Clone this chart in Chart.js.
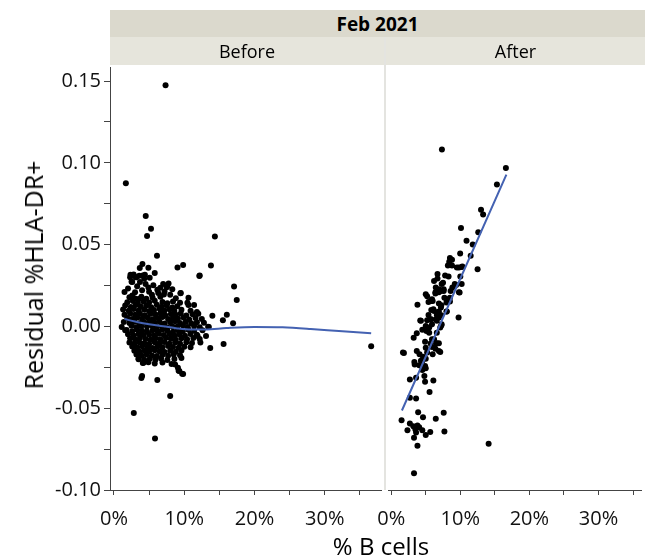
<!DOCTYPE html>
<html>
<head>
<meta charset="utf-8">
<script src="https://cdn.jsdelivr.net/npm/chart.js@4.4.1/dist/chart.umd.min.js"></script>
<style>
  html, body { margin: 0; padding: 0; background: #fff; overflow: hidden; }
  #wrap { position: relative; width: 645px; height: 557px; font-family: "Open Sans", sans-serif; color: #000; }
  canvas { position: absolute; top: 0; }
  #cBefore { left: 0; }
  #cAfter { left: 365px; }
  .cell { position: absolute; display: flex; align-items: center; justify-content: center; white-space: nowrap; }
  #hTop { left: 110px; top: 10px; width: 535px; height: 27px; background: #dbd9cd; font-weight: bold; font-size: 19px; }
  #hBefore { left: 110px; top: 37px; width: 274px; height: 28px; background: #e6e5dc; font-size: 18px; }
  #hAfter { left: 386px; top: 37px; width: 259px; height: 28px; background: #e6e5dc; font-size: 18px; }
  #sep { position: absolute; left: 384px; top: 37px; width: 2px; height: 453px; background: #e4e4e0; }
  #yTitle { position: absolute; left: 33px; top: 275px; transform: translate(-50%, -50%) rotate(-90deg); font-size: 25px; white-space: nowrap; }
  #xTitle { position: absolute; left: 381px; top: 545px; transform: translate(-50%, -50%); font-size: 24px; white-space: nowrap; }
</style>
</head>
<body>
<div id="wrap">
  <div id="sep"></div>
  <canvas id="cBefore" width="384" height="557"></canvas>
  <canvas id="cAfter" width="280" height="557"></canvas>
  <div id="hTop" class="cell"></div>
  <div id="hBefore" class="cell"></div>
  <div id="hAfter" class="cell"></div>
  <div id="yTitle"></div>
  <div id="xTitle"></div>
</div>
<script>
// Facet labels and axis titles
const groupTitle = 'Feb 2021';
const panelTitles = ['Before', 'After'];
const xAxisTitle = '% B cells';
const yAxisTitle = 'Residual %HLA-DR+';

// Axis ranges (x in percent, y in residual units)
const yRange = [-0.10, 0.1586];
const beforeXRange = [-0.565, 38.0];
const afterXRange = [-0.42, 36.3];

// Tick positions; only the labelled subset gets text
const xTickValues = [0, 5, 10, 15, 20, 25, 30, 35];
const xTickLabelled = [0, 10, 20, 30];
const yTickValues = [-0.10, -0.075, -0.05, -0.025, 0, 0.025, 0.05, 0.075, 0.10, 0.125, 0.15];
const yTickLabelled = [-0.10, -0.05, 0, 0.05, 0.10, 0.15];

// Before: [% B cells, residual]
const beforePoints = [
  [2.2,0.0178],[3.0,0.0171],[3.9,0.0182],[4.6,0.0169],[5.5,0.0176],[6.6,0.0181],[8.8,0.0172],
  [1.9,0.0148],[2.7,0.0155],[3.4,0.0143],[4.2,0.0152],[5.0,0.0146],[5.8,0.0157],[6.9,0.0149],[7.6,0.0141],[8.4,0.0153],[9.4,0.0144],
  [1.6,0.0128],[2.4,0.0119],[3.1,0.0131],[3.8,0.0122],[4.6,0.0127],[5.3,0.0118],[6.1,0.0133],[6.8,0.0121],[7.5,0.0129],[8.3,0.0116],[9.0,0.0124],[10.6,0.0131],
  [1.3,0.0103],[2.1,0.0096],[2.8,0.0107],[3.5,0.0098],[4.3,0.0104],[5.0,0.0093],[5.7,0.0101],[6.5,0.0108],[7.2,0.0097],[7.9,0.0105],[8.6,0.0094],[9.6,0.0102],[10.9,0.0096],[11.8,0.0088],
  [1.5,0.0072],[2.3,0.0079],[3.0,0.0071],[3.7,0.0078],[4.4,0.0069],[5.2,0.0077],[5.9,0.0073],[6.6,0.0081],[7.3,0.0068],[8.1,0.0076],[8.8,0.0071],[9.5,0.0079],[10.3,0.0067],[11.2,0.0074],[12.0,0.0078],
  [1.9,0.0052],[2.6,0.0046],[3.3,0.0055],[4.0,0.0047],[4.8,0.0053],[5.5,0.0044],[6.2,0.0051],[6.9,0.0057],[7.7,0.0045],[8.4,0.0052],[9.1,0.0048],[9.9,0.0055],[10.7,0.0043],[11.6,0.0051],[12.5,0.0046],
  [1.4,0.0027],[2.2,0.0021],[2.9,0.0029],[3.6,0.0019],[4.3,0.0026],[5.1,0.0031],[5.8,0.0022],[6.5,0.0028],[7.2,0.0018],[8.0,0.0025],[8.7,0.0031],[9.4,0.0021],[10.2,0.0027],[11.0,0.0019],[11.8,0.0026],[12.8,0.0022],
  [1.1,-0.0003],[2.5,0.0004],[3.2,-0.0005],[3.9,0.0002],[4.7,-0.0001],[5.4,0.0006],[6.1,-0.0004],[6.8,0.0003],[7.6,-0.0006],[8.3,0.0001],[9.0,-0.0002],[9.8,0.0005],[10.5,-0.0004],[11.4,0.0002],[12.2,-0.0005],[13.4,-0.0002],
  [1.8,-0.0022],[2.6,-0.0029],[3.3,-0.0021],[4.0,-0.0027],[4.7,-0.0031],[5.5,-0.0023],[6.2,-0.0028],[6.9,-0.0019],[7.6,-0.0026],[8.4,-0.0032],[9.1,-0.0024],[9.8,-0.0029],[10.6,-0.0021],[11.4,-0.0027],[12.6,-0.0023],
  [2.0,-0.0048],[2.8,-0.0055],[3.5,-0.0046],[4.2,-0.0053],[5.0,-0.0049],[5.7,-0.0056],[6.4,-0.0045],[7.1,-0.0052],[7.9,-0.0047],[8.6,-0.0054],[9.3,-0.0049],[10.1,-0.0057],[10.9,-0.0046],[11.8,-0.0051],[13.1,-0.0058],
  [2.3,-0.0073],[3.0,-0.0079],[3.7,-0.0071],[4.5,-0.0077],[5.2,-0.0082],[5.9,-0.0072],[6.6,-0.0078],[7.4,-0.0069],[8.1,-0.0076],[8.8,-0.0081],[9.6,-0.0073],[10.4,-0.0079],[11.3,-0.0071],[12.2,-0.0077],
  [2.2,-0.0098],[2.9,-0.0104],[3.6,-0.0096],[4.3,-0.0103],[5.0,-0.0107],[5.8,-0.0097],[6.5,-0.0102],[7.2,-0.0095],[7.9,-0.0106],[8.7,-0.0099],[9.4,-0.0104],[10.3,-0.0097],[11.1,-0.0101],
  [2.6,-0.0122],[3.3,-0.0129],[4.0,-0.0121],[4.8,-0.0127],[5.5,-0.0132],[6.2,-0.0123],[6.9,-0.0128],[7.7,-0.0120],[8.4,-0.0126],[9.2,-0.0131],[10.0,-0.0124],[10.9,-0.0128],
  [2.9,-0.0148],[3.6,-0.0154],[4.3,-0.0147],[5.0,-0.0153],[5.8,-0.0146],[6.5,-0.0152],[7.2,-0.0157],[8.0,-0.0149],[8.8,-0.0155],[9.6,-0.0147],
  [3.2,-0.0172],[3.9,-0.0178],[4.6,-0.0171],[5.4,-0.0177],[6.1,-0.0181],[6.9,-0.0173],[7.7,-0.0179],[8.5,-0.0172],[9.4,-0.0176],
  [3.5,-0.0198],[4.3,-0.0204],[5.1,-0.0197],[5.9,-0.0203],[6.7,-0.0196],[7.6,-0.0205],[8.6,-0.0199],[9.6,-0.0193],
  [4.1,-0.0224],[4.9,-0.0219],[5.8,-0.0227],[6.9,-0.0221],[8.2,-0.0229],
  [2.0,0.0232],[3.3,0.0245],[4.0,0.0221],[4.9,0.0238],[5.6,0.0252],[6.6,0.0236],[8.3,0.0228],[3.0,0.0209],[5.0,0.0212],[8.0,0.0193],[10.6,0.0176],[11.4,0.0131],[1.5,0.0210],
  [7.34,0.1475],[1.69,0.0875],[4.52,0.0675],[5.27,0.0597],[4.71,0.0553],[14.36,0.0550],[6.12,0.0432],[4.05,0.0381],
  [3.67,0.0357],[4.9,0.0358],[9.04,0.0360],[9.84,0.0375],[13.8,0.0373],[2.35,0.0316],[3.2,0.0300],[3.6,0.0310],[4.1,0.0312],
  [5.08,0.0297],[12.15,0.0309],[17.09,0.0244],[17.47,0.0162],[14.0,0.0066],[16.06,0.0072],[15.5,0.0038],[16.95,0.0020],
  [15.6,-0.0107],[13.7,-0.0132],[36.6,-0.0121],[3.9,-0.0316],[6.17,-0.0328],[9.2,-0.0271],[9.84,-0.0291],[8.0,-0.0426],
  [2.82,-0.0530],[5.84,-0.0685],[9.46,0.0203],[10.45,0.0144],[7.77,0.0262],[7.58,0.0244],[7.1,0.0195],[6.17,0.0224],
  [2.5,0.0273],[2.8,0.0317],[2.3,0.0301],[3.1,0.0301],[4.4,0.0316],[4.3,0.0291],[4.5,0.0260],[2.6,0.0271],[3.7,0.0271],
  [5.8,0.0326],[7.0,0.0260],[7.5,0.0240],[7.2,0.0213],[6.3,0.0205],[5.4,0.0193],[2.6,0.0189],[3.5,0.0168],[12.2,0.0311],
  [9.5,0.0205],[13.5,-0.0003],[12.3,-0.0099],[11.9,-0.0058],[9.3,-0.0273],[9.7,-0.0289],[9.1,-0.0252],[8.7,-0.0232],
  [4.0,-0.0303],[1.6,-0.0023],[3.5,-0.0201],[4.2,-0.0222]
];

// Before: smoothing curve
const beforeFit = [
  [1.5,0.0045],[3,0.0030],[5,0.0013],[7,0.0001],[9,-0.0012],[11,-0.0019],[13,-0.0019],
  [16,-0.0010],[20,-0.0003],[24,-0.0005],[28,-0.0015],[32,-0.0028],[36.6,-0.0042]
];

// After: [% B cells, residual]
const afterPoints = [
  [7.34,0.1081],[16.6,0.0969],[15.3,0.0867],[13.0,0.0714],[13.3,0.0685],[10.1,0.0602],[12.6,0.0575],[10.9,0.0524],
  [11.8,0.0501],[9.98,0.0446],[11.5,0.0432],[8.5,0.0418],[8.8,0.0407],[8.4,0.0395],[8.2,0.0373],[8.8,0.0373],
  [9.8,0.0360],[10.3,0.0366],[12.5,0.0350],[6.7,0.0320],[7.8,0.0311],[8.3,0.0305],[6.7,0.0293],[10.0,0.0305],
  [6.2,0.0277],[7.5,0.0267],[9.4,0.0254],[6.45,0.0238],[7.2,0.0217],[7.6,0.0217],[6.4,0.0209],[6.9,0.0209],
  [8.85,0.0238],[8.6,0.0217],[5.0,0.0197],[5.2,0.0185],[9.8,0.0209],[8.5,0.0176],[8.05,0.0158],[8.5,0.0152],
  [3.8,0.0132],[5.4,0.0150],[5.8,0.0156],[5.8,0.0101],[6.1,0.0105],[7.2,0.0115],[8.05,0.0091],[5.4,0.0070],
  [6.6,0.0070],[6.9,0.0064],[7.25,0.0069],[9.75,0.0054],[4.2,0.0036],[5.2,0.0038],[5.8,0.0044],[6.5,0.0044],
  [4.5,-0.0021],[5.1,-0.0028],[5.5,-0.0038],[7.25,0.0005],[7.1,-0.0007],[3.7,-0.0042],[3.25,-0.0069],[6.6,-0.0038],
  [4.9,-0.0093],[5.9,-0.0078],[6.6,-0.0103],[6.9,-0.0103],[5.9,-0.0126],[6.4,-0.0136],[6.9,-0.0150],[1.7,-0.0160],
  [3.7,-0.0150],[4.1,-0.0170],[4.6,-0.0185],[5.0,-0.0197],[4.3,-0.0210],[3.4,-0.0232],[4.9,-0.0242],[4.7,-0.0256],
  [2.7,-0.0324],[3.6,-0.0314],[4.8,-0.0303],[4.9,-0.0338],[6.1,-0.0330],[5.55,-0.0401],[2.7,-0.0436],[3.6,-0.0440],
  [3.9,-0.0524],[7.6,-0.0528],[4.6,-0.0555],[6.45,-0.0565],[1.5,-0.0573],[2.7,-0.0593],[3.2,-0.0610],[3.8,-0.0605],
  [4.05,-0.0616],[2.35,-0.0634],[3.5,-0.0630],[4.5,-0.0634],[5.65,-0.0645],[7.7,-0.0642],[3.3,-0.0681],[5.0,-0.0663],
  [3.6,-0.0648],[3.8,-0.0730],[14.1,-0.0718],[3.3,-0.0898],
  [6.4,0.0201],[7.7,0.0176],[8.3,0.0166],[9.9,0.0207],[6.0,0.0156],[6.9,0.0140],[7.25,0.0130],[8.0,0.0146],
  [8.0,0.0091],[6.2,0.0095],[6.9,0.0091],[5.6,0.0044],[6.9,0.0054],[7.3,0.0013],[6.6,0.0034],[4.3,0.0034],
  [5.0,0.0003],[5.5,-0.0007],[5.9,0.0013],[5.7,-0.0105],[6.5,-0.0105],[6.2,-0.0078],[1.84,-0.0162],[5.0,-0.0130],
  [5.2,-0.0160],[6.0,-0.0170],[7.1,-0.0156],[3.35,-0.0217],[4.5,-0.0211],[4.05,-0.0238],[5.0,-0.0256],[4.5,-0.0266],
  [7.3,0.0259],[9.2,0.0259],[10.2,0.0259],[6.9,0.0228],[7.6,0.0228],[6.6,0.0213],[5.9,0.0166],[9.5,0.0360],[10.2,0.0364]
];

// After: fitted line end points
const afterFit = [[1.55,-0.0514],[16.67,0.0928]];

const toXY = arr => arr.map(p => ({ x: p[0], y: p[1] }));
const isIn = (v, list) => list.some(t => Math.abs(t - v) < 1e-9);

Chart.defaults.font.family = "'Open Sans', sans-serif";
Chart.defaults.color = '#000';

document.getElementById('hTop').textContent = groupTitle;
document.getElementById('hBefore').textContent = panelTitles[0];
document.getElementById('hAfter').textContent = panelTitles[1];
document.getElementById('xTitle').textContent = xAxisTitle;
document.getElementById('yTitle').textContent = yAxisTitle;

function xScale(range) {
  return {
    type: 'linear', min: range[0], max: range[1],
    afterFit: s => { s.height = 67; },
    afterBuildTicks: s => { s.ticks = xTickValues.map(v => ({ value: v })); },
    ticks: {
      autoSkip: false, maxRotation: 0, padding: 12,
      font: { size: 20 }, color: '#111',
      callback: v => isIn(v, xTickLabelled) ? Math.round(v) + '%' : ''
    },
    grid: { drawOnChartArea: false, drawTicks: true, tickLength: 5, tickColor: '#444' },
    border: { display: true, color: '#444', width: 1 }
  };
}

function yScale(show) {
  return {
    type: 'linear', min: yRange[0], max: yRange[1], display: show,
    afterFit: s => { s.width = show ? 110 : 0; },
    afterBuildTicks: s => { s.ticks = yTickValues.map(v => ({ value: v })); },
    ticks: {
      autoSkip: false, padding: 3,
      font: { size: 20 }, color: '#111',
      callback: v => isIn(v, yTickLabelled) ? v.toFixed(2) : ''
    },
    grid: { drawOnChartArea: false, drawTicks: true, tickLength: 6, tickColor: '#444' },
    border: { display: true, color: '#444', width: 1 }
  };
}

const pointStyle = { backgroundColor: '#000', borderWidth: 0, pointRadius: 3, pointHoverRadius: 3 };
const lineStyle = { showLine: true, borderColor: '#4462b2', borderWidth: 2, pointRadius: 0, fill: false };

function panel(id, points, fit, xRange, showY, pad) {
  return new Chart(document.getElementById(id), {
    type: 'scatter',
    data: {
      datasets: [
        Object.assign({ data: toXY(fit), tension: 0.4, cubicInterpolationMode: 'monotone' }, lineStyle),
        Object.assign({ data: toXY(points) }, pointStyle)
      ]
    },
    options: {
      responsive: false, animation: false, events: [],
      layout: { padding: pad },
      plugins: { legend: { display: false }, tooltip: { enabled: false } },
      scales: { x: xScale(xRange), y: yScale(showY) }
    }
  });
}

panel('cBefore', beforePoints, beforeFit, beforeXRange, true, { top: 67, left: 0, right: 1, bottom: 0 });
panel('cAfter', afterPoints, afterFit, afterXRange, false, { top: 67, left: 20, right: 0, bottom: 0 });
</script>
</body>
</html>
